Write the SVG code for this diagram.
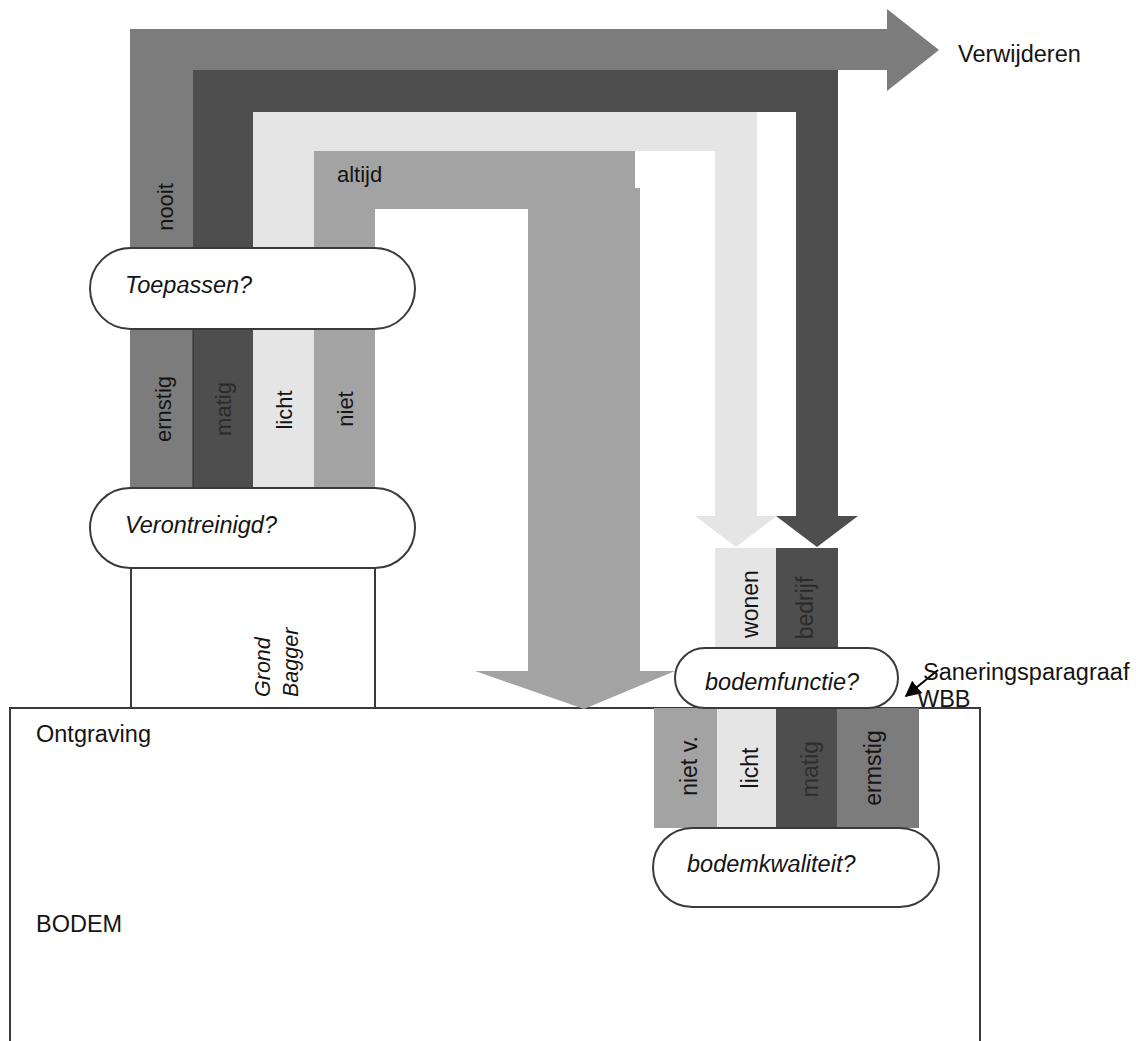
<svg xmlns="http://www.w3.org/2000/svg" width="1136" height="1041" viewBox="0 0 1136 1041">
<style>
  .lbl { font-family: "Liberation Sans", Arial, sans-serif; fill: #141414; }
  .vl { font-size: 22px; text-anchor: middle; }
  .vr { font-size: 23px; text-anchor: middle; }
  .q { font-size: 23.5px; font-style: italic; }
  .big { font-size: 23.5px; }
  .node { fill: #ffffff; stroke: #3a3a3a; stroke-width: 2; }
  .c-med { fill: #7c7c7c; }
  .c-dark { fill: #4e4e4e; }
  .c-light { fill: #e5e5e5; }
  .c-niet { fill: #a3a3a3; }
</style>
<defs>
  <marker id="ah" viewBox="0 0 10 10" refX="9" refY="5" markerWidth="8" markerHeight="8" orient="auto" markerUnits="strokeWidth">
    <path d="M0,0 L10,5 L0,10 z" fill="#000"/>
  </marker>
</defs>
<rect x="0" y="0" width="1136" height="1041" fill="#ffffff"/>

<g id="bodem">
  <rect x="10" y="708" width="970" height="345" fill="#ffffff" stroke="#3a3a3a" stroke-width="2"/>
  <text class="lbl big" x="36" y="742">Ontgraving</text>
  <text class="lbl big" x="36" y="932">BODEM</text>
</g>

<g id="grond-bagger">
  <rect x="131" y="568" width="244" height="140" fill="#ffffff" stroke="#3a3a3a" stroke-width="2"/>
  <text class="lbl q" style="font-size:21.5px" transform="translate(270,697) rotate(-90)">Grond</text>
  <text class="lbl q" style="font-size:21.5px" transform="translate(298,697) rotate(-90)">Bagger</text>
</g>

<g id="connectors">
  <!-- nooit / ernstig : verwijderen -->
  <path class="c-med" d="M130,29 H887 V9 L939,50 L887,91 V70 H193 V490 H130 Z"/>
  <!-- matig -->
  <path class="c-dark" d="M193,70 H838 V516 H858 L817,547 L776,516 H796 V112 H253 V490 H193 Z"/>
  <!-- licht -->
  <path class="c-light" d="M253,112 H757 V516 H777 L736,547 L695,516 H715 V151 H314 V490 H253 Z"/>
  <!-- niet / altijd -->
  <path class="c-niet" d="M314,151 H635 V188 H640 V671 H675 L584,709 L475,671 H528 V209 H375 V490 H314 Z"/>
  <line x1="193" y1="329" x2="193" y2="488" stroke="#2a2a2a" stroke-width="1"/>
  <!-- functie bars -->
  <rect class="c-light" x="715" y="548" width="61" height="102"/>
  <rect class="c-dark" x="776" y="548" width="62" height="102"/>
  <!-- kwaliteit bars -->
  <rect class="c-niet" x="654" y="708" width="63" height="120"/>
  <rect class="c-light" x="717" y="708" width="59" height="120"/>
  <rect class="c-dark" x="776" y="708" width="61" height="120"/>
  <rect class="c-med" x="837" y="708" width="82" height="120"/>
  <!-- Saneringsparagraaf pointer -->
  <line x1="938" y1="670" x2="906" y2="696" stroke="#000" stroke-width="2" marker-end="url(#ah)"/>
</g>

<g id="band-labels">
  <text class="lbl vl" transform="translate(173,207) rotate(-90)">nooit</text>
  <text class="lbl" style="font-size:22px" x="337" y="182">altijd</text>
  <text class="lbl vl" transform="translate(171,409) rotate(-90)">ernstig</text>
  <text class="lbl vl" style="fill:#2a2a2a" transform="translate(231,409) rotate(-90)">matig</text>
  <text class="lbl vl" transform="translate(292,410) rotate(-90)">licht</text>
  <text class="lbl vl" transform="translate(353,409) rotate(-90)">niet</text>
  <text class="lbl vr" transform="translate(758,604) rotate(-90)">wonen</text>
  <text class="lbl vr" style="fill:#2a2a2a" transform="translate(813,608) rotate(-90)">bedrijf</text>
  <text class="lbl vr" transform="translate(697,766) rotate(-90)">niet v.</text>
  <text class="lbl vr" transform="translate(758,768) rotate(-90)">licht</text>
  <text class="lbl vr" style="fill:#2e2e2e" transform="translate(818,769) rotate(-90)">matig</text>
  <text class="lbl vr" transform="translate(881,768) rotate(-90)">ermstig</text>
</g>

<g id="toepassen">
  <rect class="node" x="90" y="248" width="325" height="81" rx="40.5" ry="40.5"/>
  <text class="lbl q" x="125" y="293">Toepassen?</text>
</g>
<g id="verontreinigd">
  <rect class="node" x="90" y="488" width="325" height="80" rx="40" ry="40"/>
  <text class="lbl q" x="125" y="533">Verontreinigd?</text>
</g>
<g id="bodemfunctie">
  <rect class="node" x="675" y="648" width="223" height="60" rx="30" ry="30"/>
  <text class="lbl q" x="705" y="690">bodemfunctie?</text>
</g>
<g id="bodemkwaliteit">
  <rect class="node" x="653" y="828" width="286" height="79" rx="39.5" ry="39.5"/>
  <text class="lbl q" x="687" y="872">bodemkwaliteit?</text>
</g>
<g id="verwijderen">
  <text class="lbl big" x="958" y="62">Verwijderen</text>
</g>
<g id="saneringsparagraaf">
  <text class="lbl big" x="923" y="680">Saneringsparagraaf</text>
  <text class="lbl big" x="917" y="707">WBB</text>
</g>
</svg>
